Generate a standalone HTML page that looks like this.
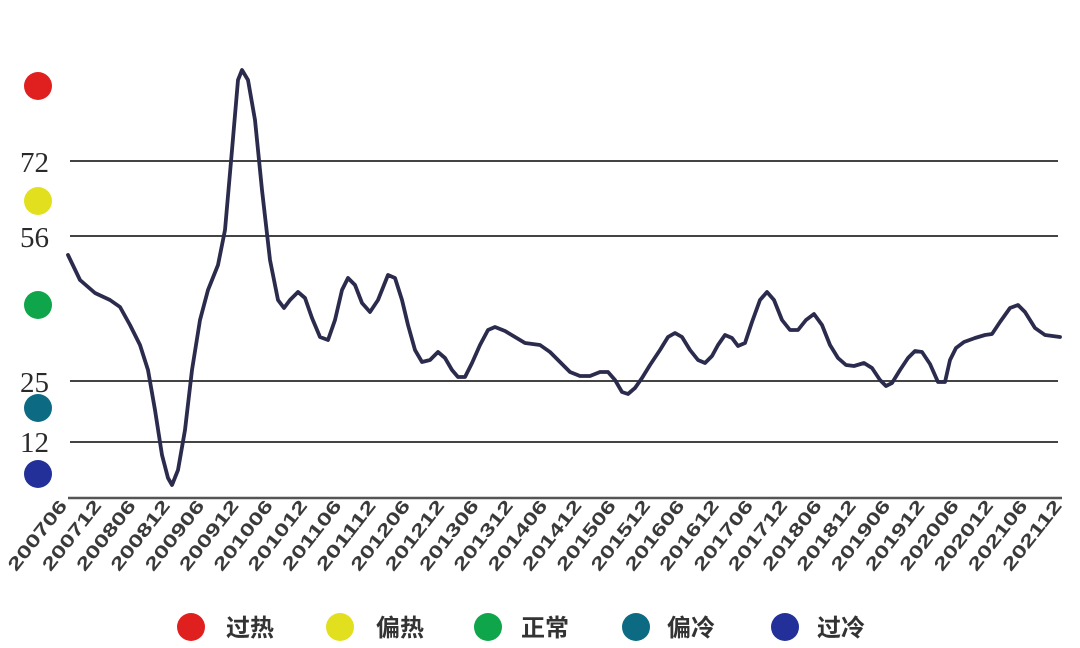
<!DOCTYPE html>
<html><head><meta charset="utf-8"><style>
html,body{margin:0;padding:0;background:#fff;}
svg{display:block;}
</style></head><body>
<svg width="1080" height="648" viewBox="0 0 1080 648" xmlns="http://www.w3.org/2000/svg">
<g stroke="#444" stroke-width="2">
<line x1="70" y1="161" x2="1058" y2="161"/>
<line x1="70" y1="236" x2="1058" y2="236"/>
<line x1="70" y1="381" x2="1058" y2="381"/>
<line x1="70" y1="442" x2="1058" y2="442"/>
<line x1="68" y1="498" x2="1062" y2="498" stroke="#555" stroke-width="2.5"/>
</g>
<g font-family="Liberation Serif, serif" font-size="29" fill="#2a2a2a">
<text x="20" y="172">72</text>
<text x="20" y="247">56</text>
<text x="20" y="392">25</text>
<text x="20" y="452">12</text>
</g>
<circle cx="38" cy="86" r="14" fill="#e0201f"/>
<circle cx="38" cy="201" r="14" fill="#e2e01e"/>
<circle cx="38" cy="305" r="14" fill="#0fa54a"/>
<circle cx="38" cy="408" r="14" fill="#0c6a82"/>
<circle cx="38" cy="474" r="14" fill="#23309a"/>
<polyline fill="none" stroke="#2b2b4d" stroke-width="3.8" stroke-linejoin="round" stroke-linecap="round" points="68,255 80,280 95,293 110,300 120,307 130,325 140,345 148,370 155,410 162,455 168,478 172,485 178,470 185,430 192,370 200,320 208,290 218,265 225,230 232,150 238,80 242,70 248,80 255,120 262,190 270,260 278,300 284,308 290,300 298,292 305,298 312,318 320,337 328,340 335,320 342,290 348,278 355,285 362,303 370,312 378,300 388,275 395,278 402,300 408,325 415,350 422,362 430,360 438,352 445,358 452,370 458,377 465,377 472,363 480,345 488,330 495,327 505,331 515,337 525,343 540,345 550,352 560,362 570,372 580,376 590,376 600,372 608,372 615,380 622,392 628,394 635,388 642,378 650,365 660,350 668,337 675,333 682,337 690,350 698,360 705,363 712,356 718,345 725,335 732,338 738,346 745,343 752,322 760,300 767,292 774,300 782,320 790,330 798,330 806,320 814,314 822,325 830,345 838,358 846,365 854,366 864,363 872,368 880,380 886,386 892,383 900,370 908,358 915,351 922,352 930,364 938,382 945,382 950,360 956,348 964,342 975,338 985,335 992,334 1000,322 1010,308 1018,305 1025,312 1035,328 1045,335 1060,337"/>
<g font-family="Liberation Sans, sans-serif" font-size="18" font-weight="bold" fill="#3a3a3a" text-anchor="end">
<text transform="translate(68,506) rotate(-52)" textLength="84" lengthAdjust="spacingAndGlyphs">200706</text>
<text transform="translate(102.3,506) rotate(-52)" textLength="84" lengthAdjust="spacingAndGlyphs">200712</text>
<text transform="translate(136.6,506) rotate(-52)" textLength="84" lengthAdjust="spacingAndGlyphs">200806</text>
<text transform="translate(170.9,506) rotate(-52)" textLength="84" lengthAdjust="spacingAndGlyphs">200812</text>
<text transform="translate(205.2,506) rotate(-52)" textLength="84" lengthAdjust="spacingAndGlyphs">200906</text>
<text transform="translate(239.5,506) rotate(-52)" textLength="84" lengthAdjust="spacingAndGlyphs">200912</text>
<text transform="translate(273.8,506) rotate(-52)" textLength="84" lengthAdjust="spacingAndGlyphs">201006</text>
<text transform="translate(308.1,506) rotate(-52)" textLength="84" lengthAdjust="spacingAndGlyphs">201012</text>
<text transform="translate(342.4,506) rotate(-52)" textLength="84" lengthAdjust="spacingAndGlyphs">201106</text>
<text transform="translate(376.7,506) rotate(-52)" textLength="84" lengthAdjust="spacingAndGlyphs">201112</text>
<text transform="translate(411,506) rotate(-52)" textLength="84" lengthAdjust="spacingAndGlyphs">201206</text>
<text transform="translate(445.3,506) rotate(-52)" textLength="84" lengthAdjust="spacingAndGlyphs">201212</text>
<text transform="translate(479.6,506) rotate(-52)" textLength="84" lengthAdjust="spacingAndGlyphs">201306</text>
<text transform="translate(513.9,506) rotate(-52)" textLength="84" lengthAdjust="spacingAndGlyphs">201312</text>
<text transform="translate(548.2,506) rotate(-52)" textLength="84" lengthAdjust="spacingAndGlyphs">201406</text>
<text transform="translate(582.5,506) rotate(-52)" textLength="84" lengthAdjust="spacingAndGlyphs">201412</text>
<text transform="translate(616.8,506) rotate(-52)" textLength="84" lengthAdjust="spacingAndGlyphs">201506</text>
<text transform="translate(651.1,506) rotate(-52)" textLength="84" lengthAdjust="spacingAndGlyphs">201512</text>
<text transform="translate(685.4,506) rotate(-52)" textLength="84" lengthAdjust="spacingAndGlyphs">201606</text>
<text transform="translate(719.7,506) rotate(-52)" textLength="84" lengthAdjust="spacingAndGlyphs">201612</text>
<text transform="translate(754,506) rotate(-52)" textLength="84" lengthAdjust="spacingAndGlyphs">201706</text>
<text transform="translate(788.3,506) rotate(-52)" textLength="84" lengthAdjust="spacingAndGlyphs">201712</text>
<text transform="translate(822.6,506) rotate(-52)" textLength="84" lengthAdjust="spacingAndGlyphs">201806</text>
<text transform="translate(856.9,506) rotate(-52)" textLength="84" lengthAdjust="spacingAndGlyphs">201812</text>
<text transform="translate(891.2,506) rotate(-52)" textLength="84" lengthAdjust="spacingAndGlyphs">201906</text>
<text transform="translate(925.5,506) rotate(-52)" textLength="84" lengthAdjust="spacingAndGlyphs">201912</text>
<text transform="translate(959.8,506) rotate(-52)" textLength="84" lengthAdjust="spacingAndGlyphs">202006</text>
<text transform="translate(994.1,506) rotate(-52)" textLength="84" lengthAdjust="spacingAndGlyphs">202012</text>
<text transform="translate(1028.4,506) rotate(-52)" textLength="84" lengthAdjust="spacingAndGlyphs">202106</text>
<text transform="translate(1062.7,506) rotate(-52)" textLength="84" lengthAdjust="spacingAndGlyphs">202112</text>
</g>
<circle cx="191" cy="627" r="14" fill="#e0201f"/>
<circle cx="340" cy="627" r="14" fill="#e2e01e"/>
<circle cx="488" cy="627" r="14" fill="#0fa54a"/>
<circle cx="636" cy="627" r="14" fill="#0c6a82"/>
<circle cx="785" cy="627" r="14" fill="#23309a"/>
<g font-family="Liberation Sans, Noto Sans CJK SC, sans-serif" font-size="24" font-weight="bold" fill="#333">
<text x="226" y="636">过热</text>
<text x="376" y="636">偏热</text>
<text x="521" y="636">正常</text>
<text x="667" y="636">偏冷</text>
<text x="817" y="636">过冷</text>
</g>
</svg>
</body></html>
